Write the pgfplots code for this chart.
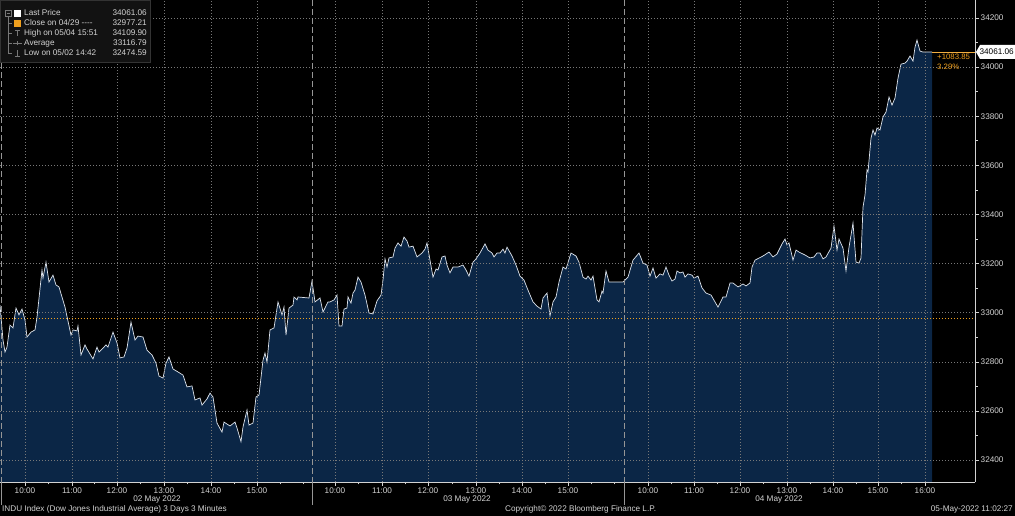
\documentclass[border=0pt]{standalone}
\usepackage{fontspec}
\setmainfont{Liberation Sans}
\usepackage{pgfplots}
\pgfplotsset{compat=1.18}
\usepackage{pgfplotstable}
\definecolor{bbnavy}{RGB}{11,38,70}
\definecolor{bbline}{RGB}{222,228,236}
\definecolor{bborange}{RGB}{240,160,30}
\definecolor{bbtext}{RGB}{210,210,210}
\definecolor{bbgrid}{RGB}{120,120,120}
\definecolor{bbsep}{RGB}{150,150,150}

\pgfplotstableread{
x y
0 33031
3 32889
5 32840
7 32860
10 32950
13 32938
16 33019
19 32991
22 33015
25 32970
27 32901
31 32921
35 32930
37 32982
42 33174
43 33141
46 33206
49 33125
53 33153
56 33113
59 33105
65 33023
71 32909
73 32930
77 32926
78 32946
81 32828
85 32869
87 32852
93 32812
97 32860
99 32840
103 32856
106 32869
108 32860
113 32921
117 32877
120 32816
124 32820
127 32856
131 32962
135 32889
138 32905
143 32901
147 32848
152 32828
156 32795
159 32742
163 32734
166 32795
169 32820
173 32771
178 32759
183 32746
187 32698
192 32702
195 32645
200 32653
202 32624
207 32649
210 32673
213 32657
217 32551
222 32514
224 32555
230 32539
235 32555
237 32531
241 32475
243 32535
247 32604
249 32543
253 32551
256 32657
259 32665
263 32807
265 32836
267 32799
270 32930
274 32938
278 33044
282 32991
284 33023
286 32909
289 33019
293 33031
294 33064
297 33052
298 33064
309 33060
312 33129
315 33044
320 33060
323 33003
328 33044
330 33044
334 33052
337 33072
339 32946
342 32946
344 33015
347 33019
348 33064
351 33039
353 33080
355 33092
358 33145
361 33125
365 33072
369 32999
373 32995
377 33048
381 33072
383 33133
385 33219
387 33186
389 33223
393 33227
395 33263
398 33284
401 33271
404 33308
407 33292
409 33267
413 33271
417 33227
422 33243
425 33259
427 33284
430 33214
433 33145
436 33178
438 33174
442 33227
445 33231
447 33194
450 33162
453 33186
458 33186
463 33194
466 33174
469 33149
473 33206
476 33219
480 33243
485 33280
488 33255
492 33243
494 33227
497 33243
500 33243
503 33259
505 33243
507 33267
512 33231
516 33194
520 33149
524 33133
528 33092
533 33044
537 33027
541 33015
543 33060
547 33080
550 32987
553 33044
556 33064
559 33125
563 33186
566 33178
571 33243
576 33231
579 33206
583 33145
586 33137
588 33149
591 33133
593 33149
597 33052
599 33044
602 33088
603 33080
606 33170
609 33125
617 33125
623 33125
628 33145
633 33214
639 33243
643 33202
647 33194
650 33149
653 33182
656 33141
660 33158
663 33153
666 33186
669 33153
672 33129
675 33137
677 33170
680 33162
683 33166
685 33145
688 33158
692 33153
694 33141
698 33149
702 33101
706 33080
711 33072
715 33044
718 33023
723 33064
726 33064
730 33121
733 33121
738 33105
743 33117
746 33109
750 33121
752 33186
755 33214
763 33231
769 33247
773 33227
777 33239
782 33280
785 33300
787 33276
789 33284
793 33214
796 33255
799 33247
805 33235
810 33223
814 33227
817 33243
820 33243
823 33219
826 33227
831 33263
834 33353
837 33255
839 33300
843 33263
846 33170
849 33267
853 33365
856 33206
859 33202
861 33223
863 33430
865 33479
867 33581
868 33573
871 33711
873 33744
875 33723
877 33752
880 33744
883 33797
886 33817
889 33878
892 33845
895 33874
898 33955
901 34012
905 34016
907 34024
910 34045
913 34024
915 34081
917 34110
920 34065
923 34061
932 34061
}\indu

\begin{document}
\begin{tikzpicture}
\fill[black] (0pt,-34pt) rectangle (1015pt,482pt);
\path[use as bounding box] (0pt,-34pt) rectangle (1015pt,482pt);
\begin{axis}[
  at={(0pt,0pt)}, anchor=south west,
  scale only axis, width=975pt, height=482pt,
  xmin=0, xmax=975, ymin=32311, ymax=34273,
  axis x line=bottom, axis y line=right,
  axis line style={draw=bbtext, line width=0.6pt, -},
  scaled y ticks=false, scaled x ticks=false,
  xtick={25,72,117,164,211,257,335,382,428,476,522,568,648,694,740,787,833,878,925},
  xticklabels={10:00,11:00,12:00,13:00,14:00,15:00,10:00,11:00,12:00,13:00,14:00,15:00,10:00,11:00,12:00,13:00,14:00,15:00,16:00},
  minor xtick={48,94,140,187,234,280,303,358,405,452,499,545,591,614,671,717,763,810,856,901},
  ytick={32400,32600,32800,33000,33200,33400,33600,33800,34000,34200},
  yticklabels={32400,32600,32800,33000,33200,33400,33600,33800,34000,34200},
  minor ytick={32500,32700,32900,33100,33300,33500,33700,33900,34100},
  grid=major,
  major grid style={draw=bbgrid, line width=0.5pt, dash pattern=on 1pt off 2pt},
  minor grid style={draw=none},
  tick style={draw=bbtext, line width=0.6pt},
  tick align=outside,
  major tick length=4pt, minor tick length=2.5pt,
  ticklabel style={font=\fontsize{8.2}{9}\selectfont, text=bbtext},
  xticklabel style={inner sep=1.5pt},
  yticklabel style={inner sep=1.5pt},
  axis on top,
]
\addplot[draw=none, fill=bbnavy] table[x=x,y=y]{\indu} \closedcycle;
\addplot[bborange, line width=0.7pt, dash pattern=on 1pt off 2pt] coordinates {(0,32977.21) (975,32977.21)};
\addplot[bbline, line width=0.7pt] table[x=x,y=y]{\indu};
\addplot[bborange!85!white, line width=0.6pt] coordinates {(932,34061.06) (975,34061.06)};
\end{axis}
% day separators
\foreach \sx in {1,312,624}{
  \draw[bbsep, line width=0.6pt, dash pattern=on 6pt off 3pt] (\sx pt,482pt) -- (\sx pt,0pt);
  \draw[bbsep, line width=0.6pt] (\sx pt,0pt) -- (\sx pt,-23pt);
}
% date labels
\node[text=bbtext, font=\fontsize{8.2}{9}\selectfont] at (157pt,-17pt) {02 May 2022};
\node[text=bbtext, font=\fontsize{8.2}{9}\selectfont] at (467pt,-17pt) {03 May 2022};
\node[text=bbtext, font=\fontsize{8.2}{9}\selectfont] at (779pt,-17pt) {04 May 2022};
% footer
\node[text=bbtext, font=\fontsize{8.2}{9}\selectfont, anchor=west, inner sep=0pt] at (2pt,-27pt) {INDU Index (Dow Jones Industrial Average) 3 Days 3 Minutes};
\node[text=bbtext, font=\fontsize{8.2}{9}\selectfont, anchor=west, inner sep=0pt] at (505pt,-27pt) {Copyright© 2022 Bloomberg Finance L.P.};
\node[text=bbtext, font=\fontsize{8.2}{9}\selectfont, anchor=east, inner sep=0pt] at (1013pt,-27pt) {05-May-2022 11:02:27};
% change annotation
\node[text=bborange, font=\fontsize{7.8}{9}\selectfont, anchor=west, inner sep=0pt] at (937pt,425pt) {+1083.85};
\node[text=bborange, font=\fontsize{7.8}{9}\selectfont, anchor=west, inner sep=0pt] at (937pt,415pt) {3.29\%};
% last price tag
\fill[white] (976pt,430pt) -- (980pt,437pt) -- (1015pt,437pt) -- (1015pt,423pt) -- (980pt,423pt) -- cycle;
\node[text=black, font=\fontsize{8.2}{9}\selectfont, anchor=east, inner sep=0pt] at (1014pt,430pt) {34061.06};
% legend
\fill[black!93!white] (0pt,420pt) rectangle (150pt,482pt);
\draw[black!80!white, line width=0.5pt] (0.3pt,420pt) rectangle (150pt,481.7pt);
\draw[bbgrid, line width=0.5pt] (5pt,465.7pt) rectangle (11pt,471.7pt);
\draw[bbgrid, line width=0.4pt] (6.5pt,468.7pt) -- (9.5pt,468.7pt);
\draw[bbgrid, line width=0.5pt] (8pt,465.7pt) -- (8pt,428.7pt);
\foreach \ry in {458.7,448.7,438.7,428.7}{\draw[bbgrid, line width=0.5pt] (8pt,\ry pt) -- (12pt,\ry pt);}
\fill[white] (14pt,465.2pt) rectangle (21pt,472.2pt);
\fill[bborange] (14pt,455.2pt) rectangle (21pt,462.2pt);
\draw[bbgrid, line width=0.6pt] (15pt,452pt) -- (20pt,452pt) (17.5pt,452pt) -- (17.5pt,445.5pt);
\draw[bbgrid, line width=0.6pt] (13pt,438.7pt) -- (22pt,438.7pt) (17.5pt,436.5pt) -- (17.5pt,441pt);
\draw[bbgrid, line width=0.6pt] (15pt,425.5pt) -- (20pt,425.5pt) (17.5pt,425.5pt) -- (17.5pt,432pt);
\begin{scope}[every node/.style={text=bbtext, font=\fontsize{8.2}{9}\selectfont, inner sep=0pt, text height=6pt, text depth=1.5pt}]
\node[anchor=west] at (24pt,468.7pt) {Last Price};
\node[anchor=west] at (24pt,458.7pt) {Close on 04/29 -{}-{}-{}-};
\node[anchor=west] at (24pt,448.7pt) {High on 05/04 15:51};
\node[anchor=west] at (24pt,438.7pt) {Average};
\node[anchor=west] at (24pt,428.7pt) {Low on 05/02 14:42};
\node[anchor=east] at (147pt,468.7pt) {34061.06};
\node[anchor=east] at (147pt,458.7pt) {32977.21};
\node[anchor=east] at (147pt,448.7pt) {34109.90};
\node[anchor=east] at (147pt,438.7pt) {33116.79};
\node[anchor=east] at (147pt,428.7pt) {32474.59};
\end{scope}
\end{tikzpicture}
\end{document}
